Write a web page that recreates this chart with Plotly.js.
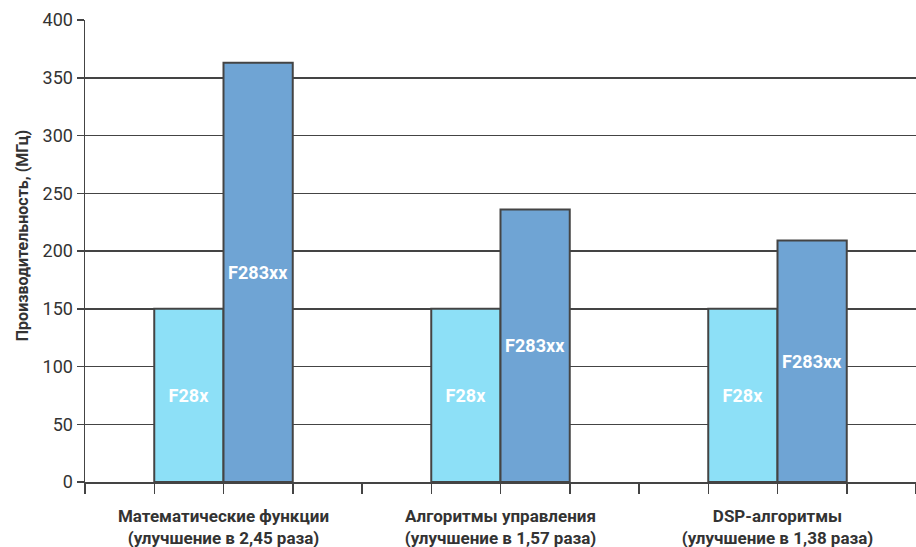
<!DOCTYPE html>
<html>
<head>
<meta charset="utf-8">
<script src="https://cdn.plot.ly/plotly-3.0.1.min.js"></script>
<style>html,body{margin:0;padding:0;background:#fff;}#chart{width:916px;height:547px;}</style>
</head>
<body>
<div id="chart"></div>
<script>
const categories = ["Математические функции<br>(улучшение в 2,45 раза)", "Алгоритмы управления<br>(улучшение в 1,57 раза)", "DSP-алгоритмы<br>(улучшение в 1,38 раза)"];
const seriesNames = ["F28x", "F283xx"];
const valuesF28x = [150, 150, 150];
const valuesF283xx = [363, 236, 209];
const yTickVals = [0, 50, 100, 150, 200, 250, 300, 350, 400];
const yTitle = "Производительность, (МГц)";

const FONT = "'Liberation Sans Narrow', 'Arial Narrow', Roboto, sans-serif";
const colors = ["#8de0f7", "#6fa4d4"];
const seriesValues = [valuesF28x, valuesF283xx];

const traces = seriesNames.map((name, k) => ({
  type: 'bar',
  name: name,
  x: categories,
  y: seriesValues[k],
  text: seriesValues[k].map(() => name),
  textposition: 'inside',
  insidetextanchor: 'middle',
  textangle: 0,
  textfont: {family: FONT, size: 18, color: '#ffffff', weight: 'bold'},
  marker: {color: colors[k], line: {color: '#444444', width: 2}},
  hoverinfo: 'none'
}));

// invisible helper on the tick axis
traces.push({type: 'scatter', x: [0, 12], y: [0, 0], xaxis: 'x2', mode: 'markers', marker: {opacity: 0}, hoverinfo: 'none', showlegend: false});

const layout = {
  width: 916, height: 547,
  margin: {l: 85, r: 0, t: 20, b: 65},
  paper_bgcolor: '#ffffff', plot_bgcolor: '#ffffff',
  showlegend: false,
  barmode: 'group', bargap: 0.5, bargroupgap: 0,
  font: {family: FONT, color: '#333333'},
  xaxis: {
    type: 'category', range: [-0.5, 2.5],
    showgrid: false, zeroline: false, showline: false,
    ticks: '', ticklabelstandoff: 22,
    tickfont: {family: FONT, size: 17, color: '#333333', weight: 'bold'}
  },
  xaxis2: {
    overlaying: 'x', anchor: 'y', side: 'bottom',
    range: [0, 12], tickmode: 'array', tickvals: [0,1,2,3,4,5,6,7,8,9,10,11,12],
    showticklabels: false, ticks: 'outside', ticklen: 10, tickwidth: 1.5, tickcolor: '#444444',
    showgrid: false, zeroline: false, showline: true, linecolor: '#444444', linewidth: 2
  },
  yaxis: {
    range: [0, 400], tickmode: 'array', tickvals: yTickVals,
    ticks: 'outside', ticklen: 7, tickwidth: 1.5, tickcolor: '#444444',
    showline: true, linecolor: '#444444', linewidth: 1.5,
    showgrid: true, gridcolor: '#444444', gridwidth: 1.5,
    zeroline: false,
    tickfont: {family: FONT, size: 18, color: '#333333'}
  },
  annotations: [{
    text: yTitle, xref: 'paper', yref: 'paper', x: 0, y: 0.532,
    xshift: -63, xanchor: 'center', yanchor: 'middle', textangle: -90,
    showarrow: false,
    font: {family: FONT, size: 16, color: '#333333', weight: 'bold'}
  }]
};

Plotly.newPlot('chart', traces, layout, {displayModeBar: false, staticPlot: true});
</script>
</body>
</html>
